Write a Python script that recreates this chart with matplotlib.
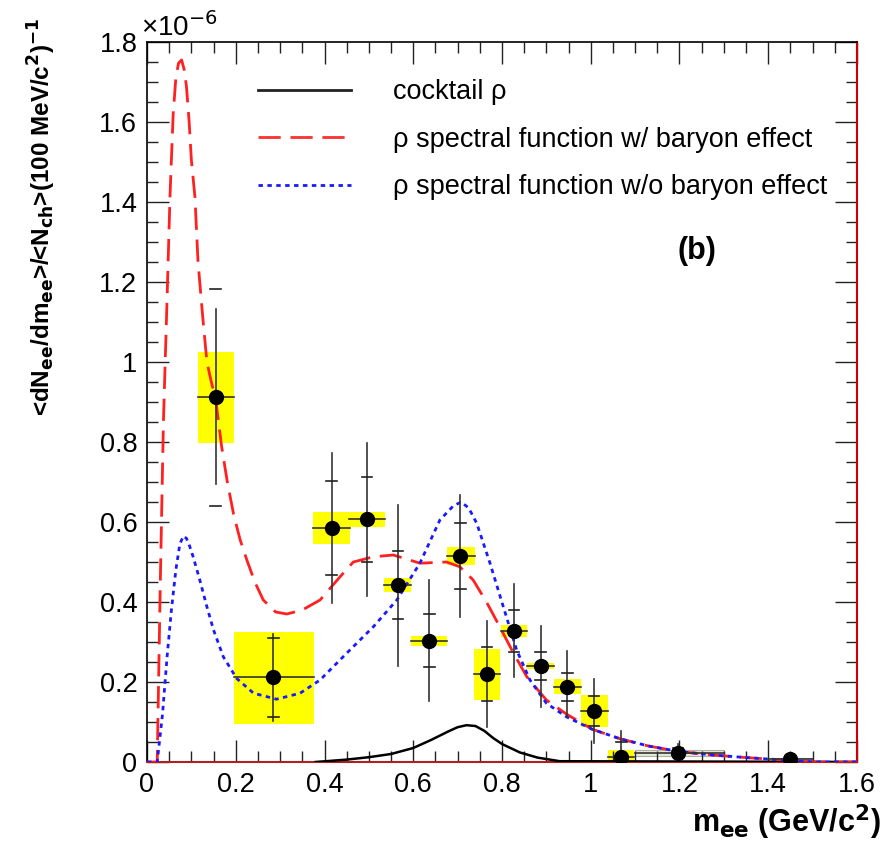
import matplotlib
matplotlib.use("Agg")
import matplotlib.pyplot as plt
from matplotlib.patches import Rectangle
from matplotlib.ticker import MultipleLocator

plt.rcParams['font.family'] = ['Liberation Sans', 'DejaVu Sans']

# ---- data (values in units of 1e-6) ----
x_pts = [0.155, 0.285, 0.416, 0.496, 0.566, 0.636, 0.706, 0.766, 0.827, 0.887, 0.947, 1.007, 1.069, 1.197, 1.449]
y_pts = [0.912, 0.212, 0.584, 0.607, 0.443, 0.303, 0.515, 0.220, 0.328, 0.240, 0.188, 0.128, 0.013, 0.023, 0.007]
bin_lo = [0.114, 0.195, 0.375, 0.456, 0.534, 0.596, 0.677, 0.737, 0.797, 0.856, 0.917, 0.977, 1.038, 1.10, 1.40]
bin_hi = [0.195, 0.376, 0.457, 0.536, 0.596, 0.677, 0.739, 0.795, 0.857, 0.917, 0.977, 1.038, 1.098, 1.30, 1.50]
box_lo = [0.798, 0.096, 0.545, 0.587, 0.426, 0.291, 0.4925, 0.156, 0.312, 0.232, 0.169, 0.088, 0.000, 0.015, 0.003]
box_hi = [1.024, 0.326, 0.624, 0.626, 0.459, 0.315, 0.537, 0.283, 0.3425, 0.248, 0.207, 0.1675, 0.030, 0.031, 0.011]
line_lo = [0.695, 0.103, 0.398, 0.415, 0.240, 0.1525, 0.363, 0.088, 0.212, 0.137, 0.113, 0.048, 0.000, 0.010, 0.000]
line_hi = [1.132, 0.320, 0.773, 0.798, 0.6425, 0.455, 0.6675, 0.3525, 0.444, 0.340, 0.278, 0.2075, 0.078, 0.045, 0.012]
cap_lo = [0.641, 0.112, 0.468, 0.501, 0.3575, 0.2375, 0.4325, 0.1525, 0.276, 0.205, 0.153, 0.090, 0.000, 0.012, 0.002]
cap_hi = [1.182, 0.309, 0.703, 0.713, 0.5275, 0.370, 0.597, 0.287, 0.380, 0.276, 0.222, 0.165, 0.050, 0.035, 0.010]
has_box = [True]*13 + [False, False]

cocktail_x = [0.38, 0.45, 0.50, 0.55, 0.60, 0.64, 0.68, 0.70, 0.72, 0.74, 0.76, 0.78, 0.80, 0.84, 0.88, 0.93, 1.6]
cocktail_y = [0.0, 0.006, 0.012, 0.020, 0.035, 0.055, 0.077, 0.087, 0.092, 0.090, 0.078, 0.060, 0.045, 0.024, 0.011, 0.002, 0.0]

red_x = [0.0, 0.023, 0.030, 0.037, 0.045, 0.052, 0.059, 0.065, 0.071, 0.078, 0.084, 0.089, 0.095, 0.100, 0.108, 0.115,
         0.125, 0.135, 0.145, 0.155, 0.168, 0.181, 0.195, 0.210, 0.225, 0.243, 0.262, 0.29, 0.315, 0.35, 0.39, 0.435,
         0.465, 0.51, 0.555, 0.615, 0.675, 0.705, 0.735, 0.765, 0.795, 0.826, 0.856, 0.90, 0.945, 1.003, 1.066,
         1.13, 1.20, 1.28, 1.351, 1.42, 1.50, 1.6]
red_y = [0.0, 0.0, 0.45, 0.85, 1.15, 1.42, 1.62, 1.71, 1.747, 1.755, 1.73, 1.688, 1.60, 1.505, 1.413, 1.25,
         1.12, 1.0, 0.95, 0.905, 0.79, 0.70, 0.62, 0.555, 0.505, 0.45, 0.405, 0.375, 0.37, 0.38, 0.405, 0.463,
         0.50, 0.513, 0.5175, 0.497, 0.50, 0.488, 0.455, 0.40, 0.338, 0.272, 0.213, 0.155, 0.12, 0.082, 0.058,
         0.040, 0.026, 0.017, 0.011, 0.006, 0.0, 0.0]

blue_x = [0.0, 0.023, 0.035, 0.045, 0.055, 0.065, 0.074, 0.082, 0.089, 0.096, 0.104, 0.119, 0.135, 0.15, 0.172, 0.202,
          0.24, 0.292, 0.345, 0.39, 0.45, 0.51, 0.563, 0.615, 0.66, 0.69, 0.708, 0.725, 0.743, 0.773, 0.803, 0.833,
          0.863, 0.90, 0.945, 1.003, 1.066, 1.13, 1.20, 1.28, 1.351, 1.42, 1.50, 1.6]
blue_y = [0.0, 0.0, 0.12, 0.26, 0.38, 0.48, 0.545, 0.565, 0.559, 0.54, 0.513, 0.455, 0.388, 0.33, 0.263, 0.209,
          0.172, 0.157, 0.172, 0.205, 0.272, 0.338, 0.405, 0.497, 0.605, 0.64, 0.650, 0.635, 0.597, 0.497, 0.388, 0.28,
          0.205, 0.147, 0.113, 0.082, 0.058, 0.040, 0.026, 0.017, 0.011, 0.006, 0.0, 0.0]

x_ticks = [0, 0.2, 0.4, 0.6, 0.8, 1.0, 1.2, 1.4, 1.6]
x_ticklabels = ['0', '0.2', '0.4', '0.6', '0.8', '1', '1.2', '1.4', '1.6']
y_ticks = [0, 0.2, 0.4, 0.6, 0.8, 1.0, 1.2, 1.4, 1.6, 1.8]
y_ticklabels = ['0', '0.2', '0.4', '0.6', '0.8', '1', '1.2', '1.4', '1.6', '1.8']

legend_labels = ['cocktail ρ', 'ρ spectral function w/ baryon effect', 'ρ spectral function w/o baryon effect']

# ---- figure ----
W, H = 890, 842
fig = plt.figure(figsize=(W/100, H/100), dpi=100)
ax = fig.add_axes([147/W, 80/H, 710/W, 720/H])
ax.set_xlim(0, 1.6)
ax.set_ylim(0, 1.8)

# systematic boxes
for i in range(len(x_pts)):
    if has_box[i]:
        ax.add_patch(Rectangle((bin_lo[i], box_lo[i]), bin_hi[i]-bin_lo[i], box_hi[i]-box_lo[i],
                               facecolor='#ffff00', edgecolor='none', zorder=1))
    else:
        ax.add_patch(Rectangle((bin_lo[i], box_lo[i]), bin_hi[i]-bin_lo[i], box_hi[i]-box_lo[i],
                               facecolor='#e8e8d8', edgecolor='#b0b0a0', lw=0.8, zorder=1))

# curves
ax.plot(cocktail_x, cocktail_y, color='black', lw=1.8, zorder=3)
ax.plot(red_x, red_y, color='#ff2020', lw=2.0, dashes=(8, 3.5), zorder=3)
ax.plot(blue_x, blue_y, color='#1a1aff', lw=2.0, dashes=(1.6, 1.6), zorder=3)

# error bars and points
for i in range(len(x_pts)):
    ax.plot([x_pts[i], x_pts[i]], [line_lo[i], line_hi[i]], color='#333333', lw=1.2, zorder=4)
    ax.plot([bin_lo[i], bin_hi[i]], [y_pts[i], y_pts[i]], color='#333333', lw=1.2, zorder=4)
    for cy in (cap_lo[i], cap_hi[i]):
        ax.plot([x_pts[i]-0.012, x_pts[i]+0.012], [cy, cy], color='#222222', lw=1.2, zorder=4)
ax.plot(x_pts, y_pts, 'o', color='black', markersize=10, zorder=5)

# legend
h1, = ax.plot([], [], color='#222222', lw=2.0)
h2, = ax.plot([], [], color='#ff3030', lw=2.0, dashes=(8, 3.5))
h3, = ax.plot([], [], color='#1a1aff', lw=2.0, dashes=(1.6, 1.6))
leg = ax.legend([h1, h2, h3], legend_labels,
                loc='upper left', bbox_to_anchor=((258-147)/710, (762-79)/720), frameon=False, fontsize=19.5,
                handlelength=3.45, handletextpad=1.55, labelspacing=0.8, borderpad=0, borderaxespad=0)

ax.text((697-147)/710, (762-251)/720, '(b)', transform=ax.transAxes, fontsize=22, fontweight='bold',
        ha='center', va='center')

# ticks
ax.set_xticks(x_ticks)
ax.set_xticklabels(x_ticklabels)
ax.set_yticks(y_ticks)
ax.set_yticklabels(y_ticklabels)
ax.xaxis.set_minor_locator(MultipleLocator(0.05))
ax.yaxis.set_minor_locator(MultipleLocator(0.05))
ax.tick_params(which='both', direction='in', top=True, right=True, labelsize=19.5, width=1.0, color='#222222')
ax.tick_params(which='major', length=16, pad=7)
ax.tick_params(which='minor', length=8)
for s in ['left', 'top']:
    ax.spines[s].set_linewidth(1.2)
ax.spines['right'].set_color('#cc0000')
ax.spines['right'].set_linewidth(1.5)
ax.spines['bottom'].set_color('#b02020')
ax.spines['bottom'].set_linewidth(1.5)

fig.text(141/W, 1 - 36/H, '×10$^{-6}$', fontsize=20, ha='left', va='baseline')

fig.text(881/W, 1 - 832/H, 'm$_{\\mathbf{ee}}$ (GeV/c$^{\\mathbf{2}}$)', fontsize=22, fontweight='bold',
         ha='right', va='baseline')
fig.text(42/W, 1 - 18/H,
         '<dN$_{\\mathbf{ee}}$/dm$_{\\mathbf{ee}}$>/<N$_{\\mathbf{ch}}$>(100 MeV/c$^{\\mathbf{2}}$)$^{\\mathbf{-1}}$',
         fontsize=17.5, fontweight='bold', rotation=90, ha='center', va='top')

fig.savefig('out.png', dpi=100)
